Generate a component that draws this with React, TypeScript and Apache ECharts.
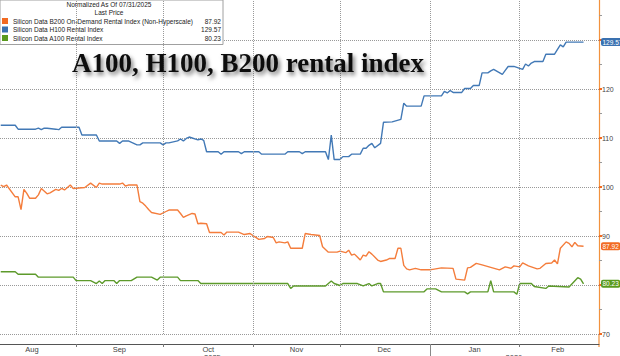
import { useEffect, useRef } from 'react';
import * as echarts from 'echarts';

// ---- data ----
const B200: [string, number][] = [
  ['2025-08-06', 100.4], ['2025-08-07', 100.1], ['2025-08-08', 100.4], ['2025-08-11', 98.0], ['2025-08-12', 98.0],
  ['2025-08-13', 95.4], ['2025-08-14', 99.5], ['2025-08-15', 98.7], ['2025-08-16', 97.7], ['2025-08-18', 97.7],
  ['2025-08-19', 98.4], ['2025-08-20', 99.7], ['2025-08-22', 98.6], ['2025-08-23', 98.8], ['2025-08-25', 99.5],
  ['2025-08-26', 99.3], ['2025-08-27', 99.7], ['2025-08-28', 99.4], ['2025-08-30', 100.4], ['2025-08-31', 99.7],
  ['2025-09-04', 99.9], ['2025-09-06', 100.8], ['2025-09-08', 99.9], ['2025-09-09', 100.8], ['2025-09-10', 100.6],
  ['2025-09-16', 100.6], ['2025-09-17', 100.8], ['2025-09-18', 100.2], ['2025-09-19', 100.4], ['2025-09-22', 100.4],
  ['2025-09-23', 97.0], ['2025-09-24', 96.7], ['2025-09-25', 96.1], ['2025-09-26', 95.4], ['2025-09-27', 94.8],
  ['2025-09-30', 94.4], ['2025-10-02', 95.0], ['2025-10-03', 95.3], ['2025-10-06', 95.3], ['2025-10-07', 94.6],
  ['2025-10-08', 93.8], ['2025-10-09', 94.1], ['2025-10-11', 94.6], ['2025-10-12', 94.5], ['2025-10-13', 92.5],
  ['2025-10-14', 92.6], ['2025-10-16', 92.5], ['2025-10-17', 90.7], ['2025-10-21', 90.7], ['2025-10-22', 90.2],
  ['2025-10-23', 90.8], ['2025-10-27', 90.8], ['2025-10-29', 90.3], ['2025-10-31', 90.5], ['2025-11-01', 90.1],
  ['2025-11-03', 89.3], ['2025-11-05', 89.5], ['2025-11-06', 89.9], ['2025-11-08', 89.7], ['2025-11-09', 88.6],
  ['2025-11-10', 88.8], ['2025-11-12', 88.6], ['2025-11-13', 88.8], ['2025-11-14', 87.5], ['2025-11-18', 87.5],
  ['2025-11-19', 90.5], ['2025-11-21', 90.3], ['2025-11-24', 90.1], ['2025-11-25', 87.8], ['2025-11-27', 86.7],
  ['2025-11-30', 86.7], ['2025-12-01', 86.9], ['2025-12-03', 86.6], ['2025-12-04', 87.1], ['2025-12-05', 86.1],
  ['2025-12-06', 86.3], ['2025-12-07', 85.7], ['2025-12-08', 85.1], ['2025-12-09', 86.1], ['2025-12-10', 85.9],
  ['2025-12-11', 86.8], ['2025-12-12', 86.3], ['2025-12-14', 85.1], ['2025-12-15', 84.8], ['2025-12-17', 85.1],
  ['2025-12-18', 85.4], ['2025-12-20', 85.4], ['2025-12-21', 87.5], ['2025-12-22', 87.5], ['2025-12-23', 84.0],
  ['2025-12-24', 83.3], ['2025-12-25', 83.1], ['2025-12-27', 83.4], ['2025-12-29', 83.1], ['2026-01-01', 83.1],
  ['2026-01-02', 83.2], ['2026-01-05', 83.5], ['2026-01-09', 83.4], ['2026-01-10', 81.2], ['2026-01-13', 81.0],
  ['2026-01-14', 83.5], ['2026-01-15', 83.6], ['2026-01-17', 84.4], ['2026-01-19', 84.1], ['2026-01-22', 83.6],
  ['2026-01-25', 83.1], ['2026-01-27', 83.7], ['2026-01-29', 83.4], ['2026-01-30', 83.9], ['2026-02-01', 83.7],
  ['2026-02-02', 84.5], ['2026-02-04', 83.9], ['2026-02-07', 83.3], ['2026-02-08', 83.4], ['2026-02-10', 84.4],
  ['2026-02-12', 84.5], ['2026-02-13', 85.1], ['2026-02-14', 84.3], ['2026-02-15', 87.5], ['2026-02-17', 88.8],
  ['2026-02-18', 88.5], ['2026-02-19', 87.8], ['2026-02-20', 88.7], ['2026-02-21', 88.0], ['2026-02-23', 87.92],
];

const H100: [string, number][] = [
  ['2025-08-06', 112.6], ['2025-08-11', 112.6], ['2025-08-12', 111.8], ['2025-08-18', 111.8], ['2025-08-19', 112.0],
  ['2025-08-20', 111.7], ['2025-08-21', 112.0], ['2025-08-22', 112.0], ['2025-08-25', 111.8], ['2025-08-26', 111.7],
  ['2025-08-27', 112.2], ['2025-09-02', 112.2], ['2025-09-03', 110.6], ['2025-09-08', 110.6], ['2025-09-09', 109.4],
  ['2025-09-15', 109.4], ['2025-09-16', 108.9], ['2025-09-17', 109.4], ['2025-09-19', 109.4], ['2025-09-22', 108.6],
  ['2025-09-23', 108.6], ['2025-09-24', 109.0], ['2025-09-30', 109.0], ['2025-10-01', 108.6], ['2025-10-02', 109.0],
  ['2025-10-03', 109.0], ['2025-10-06', 109.4], ['2025-10-07', 109.8], ['2025-10-08', 109.4], ['2025-10-09', 109.9],
  ['2025-10-10', 110.2], ['2025-10-13', 109.6], ['2025-10-14', 109.8], ['2025-10-15', 109.5], ['2025-10-16', 107.2],
  ['2025-10-20', 107.2], ['2025-10-21', 106.7], ['2025-10-22', 107.2], ['2025-10-27', 107.2], ['2025-10-28', 106.8],
  ['2025-10-29', 107.2], ['2025-11-03', 107.2], ['2025-11-04', 106.7], ['2025-11-12', 106.7], ['2025-11-13', 107.2],
  ['2025-11-17', 107.2], ['2025-11-18', 106.8], ['2025-11-19', 107.2], ['2025-11-26', 107.2], ['2025-11-27', 105.6],
  ['2025-11-28', 110.6], ['2025-11-29', 105.6], ['2025-12-01', 105.6], ['2025-12-02', 106.2], ['2025-12-04', 106.2],
  ['2025-12-05', 106.7], ['2025-12-08', 106.7], ['2025-12-09', 107.9], ['2025-12-10', 107.9], ['2025-12-11', 108.5],
  ['2025-12-12', 108.9], ['2025-12-13', 108.0], ['2025-12-15', 108.9], ['2025-12-16', 113.2], ['2025-12-19', 113.3],
  ['2025-12-22', 113.8], ['2025-12-23', 117.1], ['2025-12-24', 116.5], ['2025-12-29', 116.5], ['2025-12-30', 118.6],
  ['2026-01-05', 118.6], ['2026-01-06', 119.5], ['2026-01-07', 119.2], ['2026-01-08', 119.7], ['2026-01-09', 119.3],
  ['2026-01-12', 119.3], ['2026-01-13', 120.1], ['2026-01-15', 120.1], ['2026-01-16', 120.7], ['2026-01-18', 120.7],
  ['2026-01-19', 123.3], ['2026-01-21', 123.3], ['2026-01-22', 123.7], ['2026-01-23', 124.0], ['2026-01-26', 123.0],
  ['2026-01-27', 123.8], ['2026-01-28', 124.6], ['2026-01-30', 124.6], ['2026-02-02', 124.0], ['2026-02-03', 125.1],
  ['2026-02-04', 124.7], ['2026-02-05', 125.3], ['2026-02-06', 125.6], ['2026-02-09', 125.6], ['2026-02-10', 127.1],
  ['2026-02-13', 127.1], ['2026-02-15', 129.0], ['2026-02-16', 128.6], ['2026-02-17', 129.57], ['2026-02-23', 129.57],
];

const A100: [string, number][] = [
  ['2025-08-06', 82.7], ['2025-08-11', 82.7], ['2025-08-12', 82.2], ['2025-08-18', 82.2], ['2025-08-19', 81.6],
  ['2025-08-31', 81.6], ['2025-09-01', 80.9], ['2025-09-06', 80.9], ['2025-09-08', 80.3], ['2025-09-09', 80.8],
  ['2025-09-10', 80.3], ['2025-09-11', 80.9], ['2025-09-14', 80.9], ['2025-09-15', 80.3], ['2025-09-16', 80.9],
  ['2025-09-20', 80.9], ['2025-09-22', 81.6], ['2025-09-27', 81.6], ['2025-09-29', 81.0], ['2025-09-30', 81.6],
  ['2025-10-06', 81.6], ['2025-10-07', 80.9], ['2025-10-13', 80.9], ['2025-10-14', 80.3], ['2025-11-13', 80.3],
  ['2025-11-14', 79.3], ['2025-11-15', 79.8], ['2025-11-26', 79.8], ['2025-11-28', 80.8], ['2025-11-29', 80.3],
  ['2025-12-01', 79.9], ['2025-12-02', 80.3], ['2025-12-07', 80.3], ['2025-12-09', 79.8], ['2025-12-11', 80.3],
  ['2025-12-12', 79.8], ['2025-12-14', 80.3], ['2025-12-15', 80.3], ['2025-12-16', 78.6], ['2025-12-30', 78.6],
  ['2025-12-31', 79.2], ['2026-01-03', 79.2], ['2026-01-05', 78.6], ['2026-01-13', 78.6], ['2026-01-14', 78.2],
  ['2026-01-15', 78.6], ['2026-01-21', 78.6], ['2026-01-22', 80.9], ['2026-01-23', 78.6], ['2026-01-30', 78.6],
  ['2026-01-31', 78.1], ['2026-02-01', 80.3], ['2026-02-05', 80.3], ['2026-02-06', 79.7], ['2026-02-10', 79.3],
  ['2026-02-11', 79.8], ['2026-02-18', 79.6], ['2026-02-21', 81.5], ['2026-02-22', 81.2], ['2026-02-23', 80.23],
];

const SERIES_NAMES = [
  'Silicon Data B200 On-Demand Rental Index (Non-Hyperscale)',
  'Silicon Data H100 Rental Index',
  'Silicon Data A100 Rental Index',
];
const LAST_PRICES = [87.92, 129.57, 80.23];
const LAST_PRICE_TEXT = ['87.92', '129.57', '80.23'];

const MONTH_LABELS = ['Aug', 'Sep', 'Oct', 'Nov', 'Dec', 'Jan', 'Feb'];
const MONTH_LABEL_DATES = [
  '2025-08-16 18:00', '2025-09-15 22:00', '2025-10-16 14:00', '2025-11-16 00:00',
  '2025-12-16 06:00', '2026-01-16 10:00', '2026-02-14 03:00',
];
const MONTH_STARTS = [
  '2025-09-01', '2025-10-01', '2025-11-01', '2025-12-01', '2026-01-01', '2026-02-01',
];
const YEAR_LABELS = ['2025', '2026'];
const YEAR_LABEL_DATES = ['2025-10-18 00:00', '2026-01-30 00:00'];
const YEAR_BREAKS = ['2026-01-01'];

const X_MIN = '2025-08-05 18:00';
const X_MAX = '2026-02-28 08:00';
const Y_MIN = 70;
const Y_MAX = 140;
const Y_STEP = 10;

const TITLE = 'A100, H100, B200 rental index';
const LEGEND_HEADER = 'Normalized As Of 07/31/2025';
const LEGEND_SUB = 'Last Price';

// ---- styles ----
const LINE_COLORS = ['#f47d3c', '#4279b6', '#5d9a2b'];
const TAG_COLORS = ['#f26a21', '#3a71b0', '#5a9a1e'];
const AXIS_ORANGE = '#f2923e';
const GRID_COLOR = '#999999';
const FONT = 'Liberation Sans, Arial, sans-serif';

export default function App() {
  const ref = useRef<HTMLDivElement>(null);

  useEffect(() => {
    if (!ref.current) return;
    const chart = echarts.init(ref.current, undefined, { renderer: 'svg' });
    const parse = (s: string) => +echarts.time.parse(s);
    const monthTs = MONTH_LABEL_DATES.map(parse);
    const yearTs = YEAR_LABEL_DATES.map(parse);
    const monthStartTs = MONTH_STARTS.map(parse);
    const xMin = parse(X_MIN);
    const xMax = parse(X_MAX);
    const datasets = [B200, H100, A100];

    const nearest = (arr: number[], v: number) => {
      let best = 0;
      arr.forEach((t, i) => {
        if (Math.abs(t - v) < Math.abs(arr[best] - v)) best = i;
      });
      return best;
    };
    // axis labels hidden behind a last-price tag, as in the reference
    const coveredByTag = (v: number) => LAST_PRICES.some((p) => Math.abs(p - v) < 1.2);

    const baseX = { type: 'value', min: xMin, max: xMax, position: 'bottom', offset: 10, scale: true };
    const dotted = { color: GRID_COLOR, type: 'dotted', width: 1, opacity: 1 };

    const series: any[] = [];

    // vertical month gridlines, placed through the x scale
    series.push({
      type: 'line',
      data: monthStartTs.map((t) => [t, Y_MIN]),
      silent: true,
      clip: false,
      showSymbol: false,
      symbol: 'none',
      lineStyle: { width: 0 },
      z: 1,
      markLine: {
        silent: true,
        symbol: 'none',
        label: { show: false },
        lineStyle: dotted,
        emphasis: { disabled: true },
        data: monthStartTs.map((t) => ({ xAxis: t })),
      },
    });

    datasets.forEach((d, i) => {
      series.push({
        name: SERIES_NAMES[i],
        type: 'line',
        data: d.map(([t, v]) => [parse(t), v]),
        showSymbol: false,
        symbol: 'none',
        clip: false,
        color: TAG_COLORS[i],
        lineStyle: { color: LINE_COLORS[i], width: 1.4 },
        z: 3,
        markLine: {
          silent: true,
          symbol: 'none',
          lineStyle: { color: 'rgba(255,255,255,0)', width: 0, opacity: 1 },
          label: {
            show: true,
            position: 'end',
            distance: 2,
            opacity: 1,
            formatter: LAST_PRICE_TEXT[i],
            color: '#fff',
            backgroundColor: TAG_COLORS[i],
            padding: [1, 1.5, 0, 1.5],
            borderRadius: 2,
            fontSize: 6.5,
            fontFamily: FONT,
          },
          data: [{ yAxis: LAST_PRICES[i] }],
        },
      });
    });

    const option: any = {
      animation: false,
      backgroundColor: '#ffffff',
      textStyle: { fontFamily: FONT },
      title: [
        {
          text: LEGEND_HEADER,
          subtext: LEGEND_SUB,
          left: 109,
          top: 1,
          textAlign: 'center',
          padding: 0,
          itemGap: 1,
          z: 10,
          textStyle: { fontSize: 6.5, lineHeight: 7, fontWeight: 'normal', color: '#222', fontFamily: FONT },
          subtextStyle: { fontSize: 6.5, lineHeight: 7, color: '#222', fontFamily: FONT },
        },
        {
          text: TITLE,
          left: 248,
          top: 49,
          textAlign: 'center',
          padding: 0,
          z: 10,
          textStyle: {
            fontFamily: 'Liberation Serif, Times New Roman, serif',
            fontSize: 27,
            fontWeight: 'bold',
            color: '#111',
            textShadowColor: 'rgba(0,0,0,0.55)',
            textShadowBlur: 4,
            textShadowOffsetX: 2,
            textShadowOffsetY: 3,
          },
        },
      ],
      legend: {
        left: 0,
        top: 0,
        orient: 'vertical',
        icon: 'rect',
        itemWidth: 6,
        itemHeight: 6,
        itemGap: 1.5,
        padding: [17.5, 2, 3, 2],
        backgroundColor: '#ffffff',
        borderColor: '#a0a0a0',
        borderWidth: 1,
        selectedMode: false,
        data: SERIES_NAMES,
        formatter: (name: string) => {
          const i = SERIES_NAMES.indexOf(name);
          return `{n|${name}}{v|${LAST_PRICE_TEXT[i]}}`;
        },
        textStyle: {
          fontFamily: FONT,
          fontSize: 6.5,
          lineHeight: 7,
          color: '#222',
          rich: {
            n: { fontSize: 6.5, width: 186, fontFamily: FONT, color: '#222' },
            v: { fontSize: 6.5, width: 22, align: 'right', fontFamily: FONT, color: '#222' },
          },
        },
      },
      grid: { left: 0, right: 21, top: -9, bottom: 22, outerBoundsMode: 'none' },
      xAxis: [
        {
          ...baseX,
          axisLine: { show: true, lineStyle: { color: '#555', width: 1 } },
          axisTick: { show: true, customValues: monthStartTs, length: 3, lineStyle: { color: '#777' } },
          axisLabel: { show: false },
          splitLine: { show: false },
        },
        {
          ...baseX,
          axisLine: { show: false },
          axisTick: { show: false },
          splitLine: { show: false },
          axisLabel: {
            show: true,
            customValues: monthTs,
            margin: 1,
            fontSize: 7.5,
            color: '#444',
            fontFamily: FONT,
            formatter: (v: number) => MONTH_LABELS[nearest(monthTs, v)],
          },
        },
        {
          ...baseX,
          axisLine: { show: false },
          axisTick: {
            show: true,
            customValues: YEAR_BREAKS.map(parse),
            length: 14,
            lineStyle: { color: '#888' },
          },
          splitLine: { show: false },
          axisLabel: {
            show: true,
            customValues: yearTs,
            margin: 9,
            fontSize: 7.5,
            color: '#444',
            fontFamily: FONT,
            formatter: (v: number) => YEAR_LABELS[nearest(yearTs, v)],
          },
        },
      ],
      yAxis: {
        type: 'value',
        position: 'right',
        min: Y_MIN,
        max: Y_MAX,
        interval: Y_STEP,
        axisLine: { show: true, lineStyle: { color: AXIS_ORANGE, width: 1.2 } },
        axisTick: { show: true, length: 3, lineStyle: { color: '#f26a21', width: 2 } },
        minorTick: { show: true, splitNumber: 2, length: 3, lineStyle: { color: '#999' } },
        axisLabel: {
          margin: 3,
          fontSize: 7,
          color: '#444',
          fontFamily: FONT,
          showMaxLabel: false,
          formatter: (v: number) => (v >= Y_MAX || coveredByTag(v) ? '' : String(v)),
        },
        splitLine: { show: true, lineStyle: dotted },
      },
      graphic: [
        {
          type: 'line',
          shape: { x1: 599, y1: 334, x2: 599, y2: 347 },
          style: { stroke: AXIS_ORANGE, lineWidth: 1.2 },
          silent: true,
        },
      ],
      series,
    };

    chart.setOption(option);
    return () => chart.dispose();
  }, []);

  return (
    <div
      ref={ref}
      style={{ position: 'fixed', left: 0, top: 0, width: 620, height: 356, background: '#fff' }}
    />
  );
}
